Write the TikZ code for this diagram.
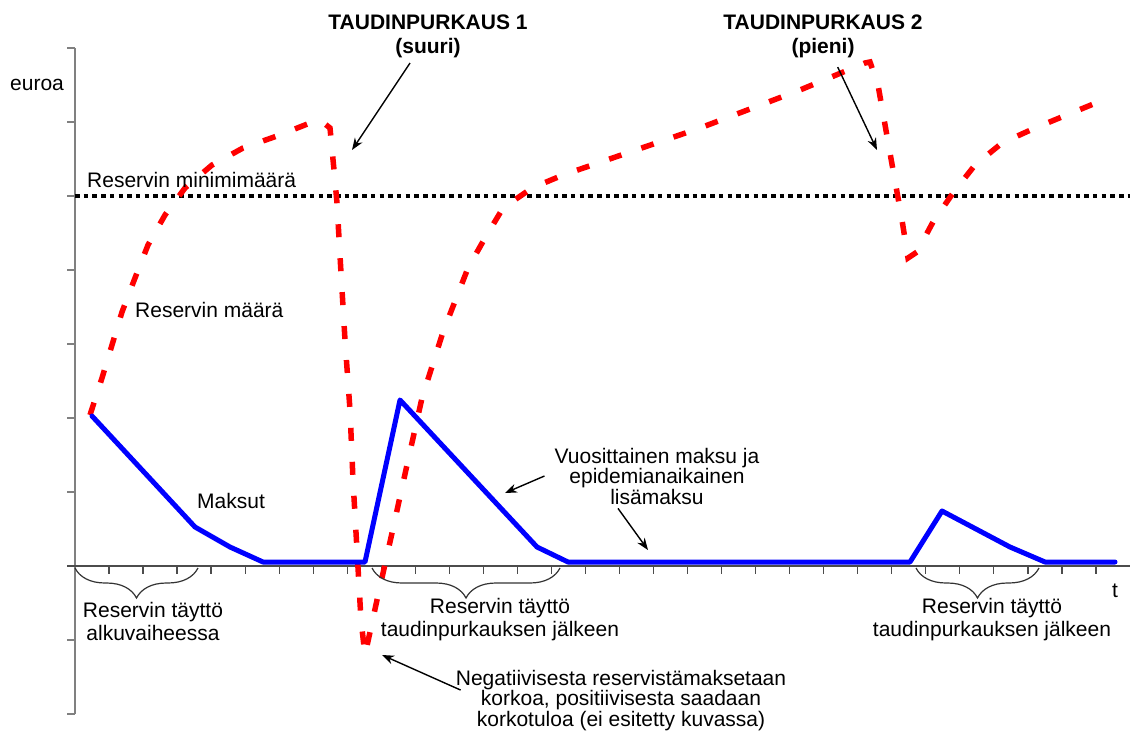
\documentclass[tikz,border=0pt]{standalone}
\usepackage{fontspec}
\setmainfont{Liberation Sans}
\usetikzlibrary{arrows.meta,decorations.pathreplacing}

\begin{document}
\begin{tikzpicture}[
  x=1pt, y=-1pt,
  lbl/.style={inner sep=0pt, font=\fontsize{21}{21}\selectfont},
  mlbl/.style={inner sep=0pt, align=center, font=\fontsize{21}{20.5}\selectfont},
  blbl/.style={inner sep=0pt, align=center, font=\fontsize{21}{23.5}\selectfont},
  ttl/.style={inner sep=0pt, align=center, font=\fontsize{21}{24.5}\selectfont\bfseries},
  arr/.style={-{Stealth[length=12pt,width=9pt]}, line width=1.4pt},
  axis/.style={draw=gray, line width=2pt},
  tick/.style={draw=black!70, line width=1.3pt},
  brace/.style={decorate, decoration={brace, mirror, amplitude=30pt},
                draw=black!80, line width=1.2pt},
  minline/.style={line width=4.5pt, dash pattern=on 4.5pt off 4.2pt},
  resline/.style={red, line width=5.5pt, dash pattern=on 13pt off 21pt},
  feeline/.style={blue, line width=5pt, line join=round, line cap=round}
]
\useasboundingbox (0,0) rectangle (1130,731);

\draw[axis] (75,48) -- (75,714);
\foreach \y in {48,122,...,714}
  \draw[axis] (67,\y) -- (75,\y);
\draw[tick] (67,566) -- (1130,566);
\foreach \k in {1,...,30}
  \draw[tick] ({75+34.03*\k},566) -- ++(0,8);

\draw[minline] (75,196) -- (1130,196);

\draw[resline] (90,415) -- (102,378) -- (112,345) -- (122,312) -- (135,278)
  -- (148,245) -- (165,215) -- (185,188) -- (212,165) -- (243,148)
  -- (277,136) -- (310,123) -- (320,120) -- (330,128) -- (334,170)
  -- (337,203) -- (341,273) -- (345,340) -- (350,410) -- (353,480)
  -- (357,550) -- (361,620) -- (365,655) -- (377,600) -- (392,533)
  -- (407,465) -- (422,398) -- (443,332) -- (468,268) -- (485,238)
  -- (503,208) -- (532,188) -- (563,175) -- (700,128) -- (800,90)
  -- (865,63) -- (870,62) -- (878,85) -- (890,153) -- (902,220)
  -- (908,258) -- (917,252) -- (933,222) -- (953,193) -- (975,165)
  -- (1002,143) -- (1035,128) -- (1108,98);

\draw[feeline] (92,416) -- (195,527) -- (230,547) -- (263,562) -- (365,562)
  -- (400,400) -- (537,547) -- (568,562) -- (910,562) -- (942,511)
  -- (1010,547) -- (1045,562) -- (1115,562);

\draw[brace] (75,568) -- (198,568);
\draw[brace] (372,568) -- (560,568);
\draw[brace] (916,568) -- (1039,568);

\node[lbl, anchor=base west] (euroa) at (10,90) {euroa};
\node[lbl, anchor=base west] (minres) at (87,187) {Reservin minimimäärä};
\node[lbl, anchor=base west] (resmaara) at (135,317) {Reservin määrä};
\node[lbl, anchor=base west] (maksut) at (197,508) {Maksut};
\node[lbl, anchor=base west] (aika) at (1112,597) {t};

\node[ttl, anchor=base] (taud1) at (428,53.5) {TAUDINPURKAUS 1\\(suuri)};
\node[ttl, anchor=base] (taud2) at (823,53.5) {TAUDINPURKAUS 2\\(pieni)};

\node[blbl, anchor=base] (alku) at (153,640.5) {Reservin täyttö\\alkuvaiheessa};
\node[blbl, anchor=base] (tayt1) at (500,636.5) {Reservin täyttö\\taudinpurkauksen jälkeen};
\node[blbl, anchor=base] (tayt2) at (992,636.5) {Reservin täyttö\\taudinpurkauksen jälkeen};

\node[mlbl, anchor=base] (vuosi) at (657,504)
  {Vuosittainen maksu ja\\epidemianaikainen\\lisämaksu};
\node[mlbl, anchor=base] (neg) at (621,726)
  {Negatiivisesta reservistämaksetaan\\korkoa, positiivisesta saadaan\\korkotuloa (ei esitetty kuvassa)};

\coordinate (hit1) at (352,150);
\coordinate (hit2) at (877,150);
\coordinate (negtip) at (382,655);
\coordinate (vuotipa) at (505,493);
\coordinate (vuotipb) at (648,550);

\draw[arr, shorten <=6pt] (taud1) -- (hit1);
\draw[arr, shorten <=10pt] (taud2) -- (hit2);
\draw[arr] ([shift={(5,-10)}]neg.west) -- (negtip);
\draw[arr] ([shift={(-10,0)}]vuosi.west) -- (vuotipa);
\draw[arr] ([shift={(-39,4)}]vuosi.south) -- (vuotipb);
\end{tikzpicture}
\end{document}
